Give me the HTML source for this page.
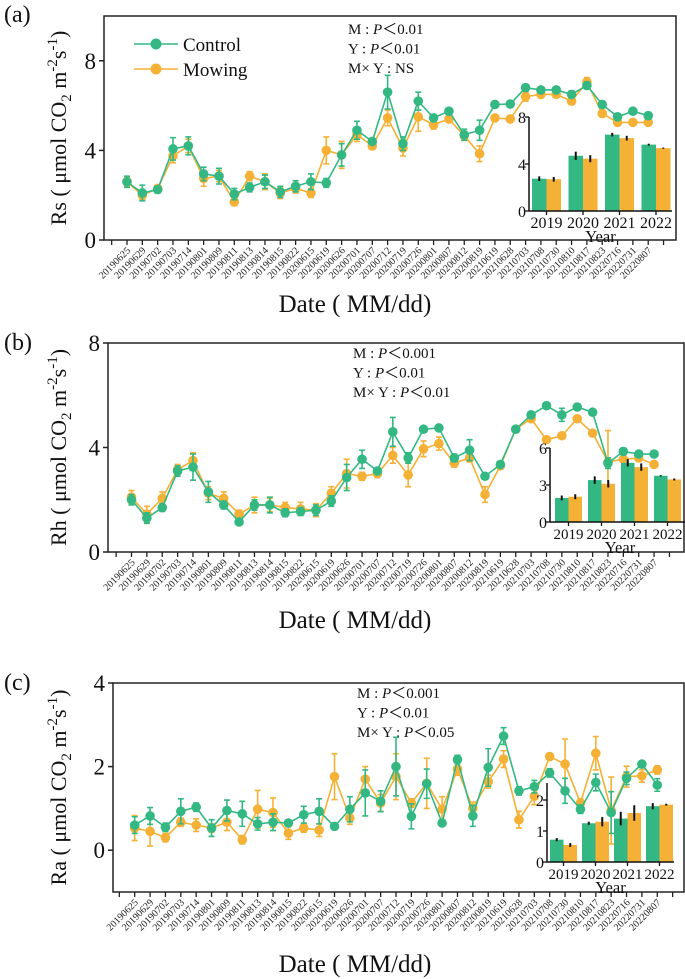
<!DOCTYPE html>
<html><head><meta charset="utf-8">
<style>
html,body{margin:0;padding:0;background:#fff;}
svg{display:block;font-family:"Liberation Serif",serif;}
</style></head>
<body>
<svg id="fig" width="685" height="979" viewBox="0 0 685 979" xmlns="http://www.w3.org/2000/svg"></svg>
<script>
const dates = ["20190625","20190629","20190702","20190703","20190714","20190801","20190809","20190811","20190813","20190814","20190815","20190822","20200615","20200619","20200626","20200701","20200707","20200712","20200719","20200726","20200801","20200807","20200812","20200819","20210619","20210628","20210703","20210708","20210730","20210810","20210817","20210823","20220716","20220731","20220807"];
const years = ["2019","2020","2021","2022"];

const rsControl = [2.6,2.1,2.25,4.07,4.2,2.95,2.85,2.05,2.35,2.6,2.15,2.4,2.6,2.55,3.8,4.9,4.4,6.6,4.3,6.2,5.45,5.75,4.7,4.9,6.05,6.07,6.8,6.7,6.7,6.5,6.9,6.05,5.5,5.75,5.55];
const rsMowing = [2.6,2.0,2.3,3.75,4.2,2.75,2.85,1.7,2.85,2.6,2.1,2.3,2.1,4.0,3.8,4.7,4.2,5.45,4.1,5.5,5.15,5.4,4.65,3.85,5.45,5.4,6.4,6.5,6.5,6.2,7.05,5.65,5.25,5.25,5.25];
const rsControlErr = [0.25,0.35,0.15,0.5,0.4,0.3,0.35,0.25,0.2,0.3,0.25,0.25,0.35,0.2,0.5,0.4,0.1,0.75,0.3,0.4,0.15,0.1,0.25,0.45,0.1,0.1,0.15,0.1,0.1,0.15,0.15,0.15,0.1,0.1,0.15];
const rsMowingErr = [0.2,0.2,0.15,0.3,0.3,0.35,0.25,0.15,0.2,0.35,0.25,0.2,0.2,0.6,0.6,0.3,0.15,0.35,0.35,0.65,0.2,0.15,0.2,0.35,0.1,0.1,0.2,0.15,0.1,0.15,0.2,0.15,0.1,0.1,0.1];
const rsYearControl = [2.75,4.7,6.5,5.65];
const rsYearMowing = [2.7,4.45,6.2,5.35];
const rsYearControlErr = [0.2,0.35,0.15,0.08];
const rsYearMowingErr = [0.2,0.3,0.2,0.05];

const rhControl = [2.0,1.3,1.7,3.1,3.25,2.3,1.8,1.15,1.8,1.8,1.5,1.55,1.6,1.95,2.85,3.55,3.1,4.6,3.6,4.7,4.75,3.6,3.9,2.9,3.35,4.7,5.25,5.6,5.25,5.55,5.35,3.4,3.85,3.75,3.75];
const rhMowing = [2.1,1.45,2.05,3.15,3.5,2.25,2.05,1.45,1.8,1.8,1.7,1.65,1.6,2.25,3.0,2.9,3.0,3.7,2.95,3.95,4.15,3.4,3.6,2.2,3.3,4.7,5.1,4.3,4.45,5.1,4.55,3.45,3.55,3.6,3.35];
const rhControlErr = [0.2,0.2,0.15,0.2,0.5,0.4,0.15,0.1,0.2,0.3,0.15,0.15,0.2,0.2,0.5,0.35,0.1,0.55,0.2,0.1,0.1,0.15,0.4,0.1,0.1,0.1,0.1,0.1,0.25,0.1,0.1,0.2,0.1,0.1,0.1];
const rhMowingErr = [0.25,0.3,0.25,0.2,0.3,0.25,0.25,0.15,0.3,0.25,0.2,0.25,0.25,0.25,0.55,0.15,0.15,0.3,0.45,0.3,0.25,0.15,0.15,0.3,0.1,0.1,0.1,0.1,0.1,0.1,0.1,1.2,0.1,0.1,0.1];
const rhYearControl = [1.95,3.4,4.8,3.75];
const rhYearMowing = [2.05,3.1,4.45,3.45];
const rhYearControlErr = [0.2,0.3,0.3,0.05];
const rhYearMowingErr = [0.2,0.3,0.3,0.08];

const raControl = [0.6,0.82,0.55,0.93,1.03,0.53,0.95,0.87,0.63,0.67,0.65,0.85,0.93,0.57,0.98,1.37,1.17,2.0,0.81,1.59,0.65,2.17,0.82,1.98,2.73,1.42,1.52,1.85,1.42,0.98,1.62,0.9,1.72,2.06,1.56];
const raMowing = [0.53,0.45,0.3,0.67,0.6,0.53,0.67,0.25,0.98,0.9,0.41,0.53,0.48,1.76,0.77,1.7,1.13,1.76,1.13,1.6,0.98,1.94,1.0,1.64,2.18,0.73,1.29,2.24,2.06,1.13,2.32,0.95,1.76,1.78,1.92];
const raControlErr = [0.2,0.2,0.1,0.3,0.1,0.2,0.25,0.3,0.15,0.2,0.05,0.2,0.3,0.05,0.3,0.55,0.25,0.7,0.3,0.35,0.05,0.1,0.25,0.45,0.2,0.1,0.15,0.1,0.3,0.1,0.2,0.5,0.15,0.05,0.15];
const raMowingErr = [0.3,0.35,0.1,0.1,0.15,0.1,0.2,0.1,0.45,0.35,0.15,0.1,0.15,0.55,0.15,0.3,0.2,0.55,0.1,0.6,0.3,0.15,0.15,0.15,0.2,0.2,0.2,0.05,0.6,0.1,0.4,0.8,0.25,0.15,0.1];
const raYearControl = [0.72,1.25,1.4,1.8];
const raYearMowing = [0.55,1.3,1.58,1.85];
const raYearControlErr = [0.05,0.05,0.22,0.1];
const raYearMowingErr = [0.06,0.15,0.25,0.03];

const GREEN = "#33b884", ORANGE = "#f5b135";
const NS = "http://www.w3.org/2000/svg";
const svg = document.getElementById("fig");

function mk(tag, attrs, parent, text){
  const e = document.createElementNS(NS, tag);
  for (const k in attrs) e.setAttribute(k, attrs[k]);
  if (text !== undefined) e.textContent = text;
  (parent || svg).appendChild(e);
  return e;
}

function panel(cfg){
  const g = mk("g", {});
  
  
  const yS = v => cfg.B - (v - cfg.ymin) / (cfg.ymax - cfg.ymin) * (cfg.B - cfg.T);
  const xS = i => cfg.x0 + i * cfg.dx;
  const fr = mk("rect", {x:cfg.L, y:cfg.T, width:cfg.R-cfg.L, height:cfg.B-cfg.T, fill:"none", stroke:"#222", "stroke-width":1.5}, g);
  
  
  cfg.yticks.forEach(v => {
    mk("line", {x1:cfg.L-5, x2:cfg.L, y1:yS(v), y2:yS(v), stroke:"#222", "stroke-width":1.5}, g);
    const t = mk("text", {x:cfg.L-8, y:yS(v)+8, "text-anchor":"end", "font-size":23, fill:"#111"}, g, String(v));
    
    
  });
  for (let i = -1; i <= dates.length; i++){
    mk("line", {x1:xS(i), x2:xS(i), y1:cfg.B, y2:cfg.B+5, stroke:"#222", "stroke-width":1.3}, g);
  }
  dates.forEach((d, i) => {
    const x = xS(i) + 4, y = cfg.B + 11;
    const t = mk("text", {x:x, y:y, "text-anchor":"end", "font-size":10, fill:"#222", transform:`rotate(-45 ${x} ${y})`}, g, d);
    
    
  });
  const xt = mk("text", {x:355, y:cfg.dateY, "text-anchor":"middle", "font-size":25, fill:"#111", "xml:space":"preserve"}, g, "Date  ( MM/dd)");
  
  
  const yc = (cfg.T + cfg.B) / 2;
  const yt = mk("text", {x:66, y:yc, "text-anchor":"middle", "font-size":22, fill:"#111", transform:`rotate(-90 66 ${yc})`, "xml:space":"preserve"}, g);
  
  
  mk("tspan", {}, yt, cfg.label + " ( μmol CO");
  mk("tspan", {"font-size":15, dy:5}, yt, "2");
  mk("tspan", {dy:-5}, yt, " m");
  mk("tspan", {"font-size":15, dy:-9}, yt, "-2");
  mk("tspan", {dy:9}, yt, "s");
  mk("tspan", {"font-size":15, dy:-9}, yt, "-1");
  mk("tspan", {dy:9}, yt, ")");
  const pl = mk("text", {x:4, y:cfg.panelY, "font-size":24, fill:"#111"}, g, cfg.letter);
  
  
  cfg.stats.forEach((s, k) => {
    const t = mk("text", {x:cfg.statX, y:cfg.statY + k*19.5, "font-size":15, fill:"#111", "xml:space":"preserve"}, g);
    
    
    mk("tspan", {}, t, s[0] + " : ");
    if (s[1] === "NS") { mk("tspan", {}, t, "NS"); }
    else { mk("tspan", {"font-style":"italic"}, t, "P"); mk("tspan", {}, t, "＜" + s[1]); }
  });
  const series = [[cfg.m, cfg.mErr, ORANGE, "mowing"], [cfg.c, cfg.cErr, GREEN, "control"]];
  series.forEach(([vals, errs, col, nm]) => {
    const sg = mk("g", {}, g);
    
    
    const pts = vals.map((v, i) => xS(i) + "," + yS(v)).join(" ");
    const line = mk("polyline", {points:pts, fill:"none", stroke:col, "stroke-width":1.6}, sg);
    
    
    vals.forEach((v, i) => {
      const x = xS(i), y1 = yS(v + errs[i]), y2 = yS(v - errs[i]);
      mk("path", {d:`M${x},${y1}V${y2}M${x-3},${y1}H${x+3}M${x-3},${y2}H${x+3}`, stroke:col, "stroke-width":1.6, fill:"none"}, sg);
      const c = mk("circle", {cx:x, cy:yS(v), r:4.8, fill:col}, sg);
      
      
    });
  });
  const ig = mk("g", {}, g);
  
  
  const iy = v => cfg.in.y0 - v * cfg.in.py;
  years.forEach((yr, k) => {
    const gx = cfg.in.bx + k * cfg.in.cw;
    [[cfg.yc, cfg.ycErr, GREEN, 0, "control"], [cfg.ym, cfg.ymErr, ORANGE, 1, "mowing"]].forEach(([vals, errs, col, o, nm]) => {
      const x = gx + o * cfg.in.bw;
      const b = mk("rect", {x:x, y:iy(vals[k]), width:cfg.in.bw, height:iy(0) - iy(vals[k]), fill:col}, ig);
      
      
      const cx = x + cfg.in.bw / 2;
      mk("line", {x1:cx, x2:cx, y1:iy(vals[k] + errs[k]), y2:iy(vals[k] - errs[k]), stroke:"#111", "stroke-width":2}, ig);
    });
    const tx = gx + cfg.in.bw;
    mk("line", {x1:tx, x2:tx, y1:cfg.in.y0, y2:cfg.in.y0 + 4, stroke:"#111", "stroke-width":1.3}, ig);
    const yl = mk("text", {x:tx, y:cfg.in.y0 + 17, "text-anchor":"middle", "font-size":cfg.in.fs, fill:"#111"}, ig, yr);
    
    
  });
  mk("line", {x1:cfg.in.ax, x2:cfg.in.ax, y1:cfg.in.top, y2:cfg.in.y0, stroke:"#111", "stroke-width":1.5}, ig);
  mk("line", {x1:cfg.in.ax, x2:cfg.in.right, y1:cfg.in.y0, y2:cfg.in.y0, stroke:"#111", "stroke-width":1.5}, ig);
  cfg.in.ticks.forEach(v => {
    mk("line", {x1:cfg.in.ax-4, x2:cfg.in.ax, y1:iy(v), y2:iy(v), stroke:"#111", "stroke-width":1.3}, ig);
    const t = mk("text", {x:cfg.in.ax-3, y:iy(v)+6, "text-anchor":"end", "font-size":16, fill:"#111"}, ig, String(v));
    
    
  });
  const yrT = mk("text", {x:(cfg.in.ax + cfg.in.right)/2, y:cfg.in.y0 + 31, "text-anchor":"middle", "font-size":16.5, fill:"#111"}, ig, "Year");
  
  
}

panel({name:"rs", letter:"(a)", label:"Rs", panelY:22, L:104, R:676, T:16, B:240, ymin:0, ymax:10, yticks:[0,4,8], x0:127, dx:15.33, dateY:312,
  c:rsControl, m:rsMowing, cErr:rsControlErr, mErr:rsMowingErr, yc:rsYearControl, ym:rsYearMowing, ycErr:rsYearControlErr, ymErr:rsYearMowingErr,
  stats:[["M","0.01"],["Y","0.01"],["M× Y","NS"]], statX:348, statY:34,
  in:{ax:529, y0:211, py:11.75, top:117, right:672, bx:532, cw:36.5, bw:14.5, ticks:[0,4,8], fs:16}});

panel({name:"rh", letter:"(b)", label:"Rh", panelY:350, L:108, R:684, T:343, B:552, ymin:0, ymax:8, yticks:[0,4,8], x0:131.5, dx:15.37, dateY:628,
  c:rhControl, m:rhMowing, cErr:rhControlErr, mErr:rhMowingErr, yc:rhYearControl, ym:rhYearMowing, ycErr:rhYearControlErr, ymErr:rhYearMowingErr,
  stats:[["M","0.001"],["Y","0.01"],["M× Y","0.01"]], statX:353, statY:358,
  in:{ax:550, y0:522, py:12.33, top:448, right:690, bx:555, cw:33, bw:13.5, ticks:[0,3,6], fs:15}});

panel({name:"ra", letter:"(c)", label:"Ra", panelY:690, L:113, R:684, T:683, B:892, ymin:-1, ymax:4, yticks:[0,2,4], x0:134.7, dx:15.37, dateY:972,
  c:raControl, m:raMowing, cErr:raControlErr, mErr:raMowingErr, yc:raYearControl, ym:raYearMowing, ycErr:raYearControlErr, ymErr:raYearMowingErr,
  stats:[["M","0.001"],["Y","0.01"],["M× Y","0.05"]], statX:357, statY:698,
  in:{ax:547, y0:862, py:31, top:783, right:674, bx:550, cw:32, bw:13.5, ticks:[0,1,2], fs:15}});

const lg = mk("g", {});


[["Control", GREEN, 44], ["Mowing", ORANGE, 69]].forEach(([lab, col, y]) => {
  const e = mk("g", {}, lg);
  
  
  mk("line", {x1:134, x2:178, y1:y, y2:y, stroke:col, "stroke-width":1.6}, e);
  mk("circle", {cx:156, cy:y, r:5.5, fill:col}, e);
  mk("text", {x:183, y:y+7, "font-size":19, fill:"#111"}, e, lab);
});
</script>
</body></html>
